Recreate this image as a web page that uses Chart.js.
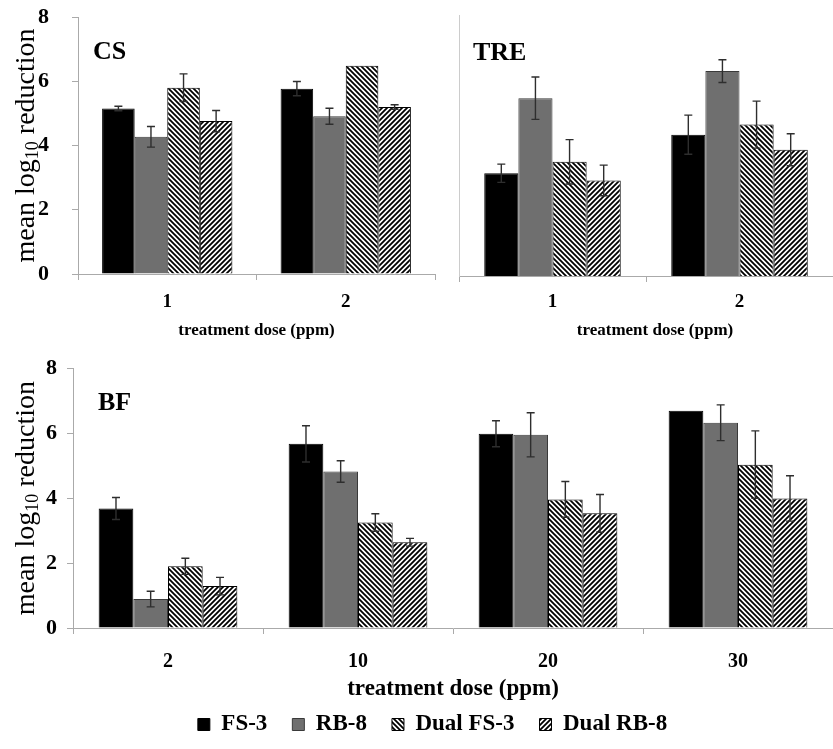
<!DOCTYPE html>
<html>
<head>
<meta charset="utf-8">
<script src="https://cdn.jsdelivr.net/npm/chart.js@4.4.1/dist/chart.umd.min.js"></script>
<style>
  html, body { margin: 0; padding: 0; background: #fff; overflow: hidden; }
  body { position: relative; width: 833px; height: 749px; }
  canvas { position: absolute; }
  #csChart { left: 0; top: 0; }
  #treChart { left: 445px; top: 0; }
  #bfChart { left: 0; top: 345px; }
</style>
</head>
<body>
<canvas id="csChart" width="445" height="345"></canvas>
<canvas id="treChart" width="388" height="345"></canvas>
<canvas id="bfChart" width="833" height="401"></canvas>
<script>
// categories
const csDoses = ["1", "2"];
const treDoses = ["1", "2"];
const bfDoses = ["2", "10", "20", "30"];
const seriesNames = ["FS-3", "RB-8", "Dual FS-3", "Dual RB-8"];
const yMin = 0;
const yMax = 8;
const yStep = 2;

// CS panel (mean log10 reduction, error)
const csFS3 = [5.15, 5.77];
const csFS3Err = [0.07, 0.22];
const csRB8 = [4.27, 4.91];
const csRB8Err = [0.32, 0.25];
const csDualFS3 = [5.80, 6.48];
const csDualFS3Err = [0.43, 0];
const csDualRB8 = [4.76, 5.20];
const csDualRB8Err = [0.33, 0.07];

// TRE panel
const treFS3 = [3.15, 4.33];
const treFS3Err = [0.28, 0.60];
const treRB8 = [5.45, 6.28];
const treRB8Err = [0.65, 0.35];
const treDualFS3 = [3.50, 4.64];
const treDualFS3Err = [0.68, 0.72];
const treDualRB8 = [2.93, 3.87];
const treDualRB8Err = [0.47, 0.49];

// BF panel
const bfFS3 = [3.68, 5.67, 5.98, 6.69];
const bfFS3Err = [0.34, 0.56, 0.40, 0];
const bfRB8 = [0.89, 4.82, 5.95, 6.32];
const bfRB8Err = [0.24, 0.33, 0.68, 0.55];
const bfDualFS3 = [1.90, 3.25, 3.96, 5.03];
const bfDualFS3Err = [0.25, 0.27, 0.55, 1.04];
const bfDualRB8 = [1.29, 2.64, 3.53, 3.99];
const bfDualRB8Err = [0.27, 0.12, 0.58, 0.70];

const serif = '"Liberation Serif", "Times New Roman", serif';
Chart.defaults.font.family = serif;
Chart.defaults.color = "#000";

// diagonal hatch fill, dir "back" = \\\ , "fwd" = ///
function makeHatch(dir) {
    const s = 5;
    const c = document.createElement("canvas");
    c.width = s;
    c.height = s;
    const g = c.getContext("2d");
    g.fillStyle = "#fff";
    g.fillRect(0, 0, s, s);
    g.strokeStyle = "#000";
    g.lineWidth = 1.8;
    g.beginPath();
    for (let k = -s; k <= 2 * s; k += s) {
        if (dir === "back") {
            g.moveTo(-1, k - 1);
            g.lineTo(s + 1, k + s + 1);
        } else {
            g.moveTo(-1, k + 1);
            g.lineTo(s + 1, k - s - 1);
        }
    }
    g.stroke();
    return g.createPattern(c, "repeat");
}

const fills = ["#000000", "#6f6f6f", makeHatch("back"), makeHatch("fwd")];
const borders = ["#000000", "#3a3a3a", "#000000", "#000000"];

function makeDatasets(means, errs) {
    return seriesNames.map((name, i) => ({
        label: name,
        data: means[i],
        errors: errs[i],
        backgroundColor: fills[i],
        borderColor: borders[i],
        borderWidth: 1,
        categoryPercentage: 0.73,
        barPercentage: 1.0
    }));
}

// error bars drawn from the y scale
const errorBarPlugin = {
    id: "errorBars",
    afterDatasetsDraw(chart) {
        const ctx = chart.ctx;
        const yScale = chart.scales.y;
        ctx.save();
        ctx.strokeStyle = "#2e2e2e";
        ctx.lineWidth = 1.4;
        chart.data.datasets.forEach((ds, i) => {
            const meta = chart.getDatasetMeta(i);
            meta.data.forEach((bar, j) => {
                const err = ds.errors ? ds.errors[j] : 0;
                if (!err) return;
                const v = ds.data[j];
                const yTop = yScale.getPixelForValue(v + err);
                const yBot = yScale.getPixelForValue(v - err);
                const cap = 4;
                ctx.beginPath();
                ctx.moveTo(bar.x, yTop);
                ctx.lineTo(bar.x, yBot);
                ctx.moveTo(bar.x - cap, yTop);
                ctx.lineTo(bar.x + cap, yTop);
                ctx.moveTo(bar.x - cap, yBot);
                ctx.lineTo(bar.x + cap, yBot);
                ctx.stroke();
            });
        });
        ctx.restore();
    }
};

// axis titles and panel letters
const panelTextPlugin = {
    id: "panelText",
    afterDraw(chart, args, opts) {
        const ctx = chart.ctx;
        const ca = chart.chartArea;
        ctx.save();
        ctx.fillStyle = "#000";
        ctx.textBaseline = "middle";

        // panel letter
        ctx.font = "bold 26px " + serif;
        ctx.textAlign = "left";
        ctx.fillText(opts.label, ca.left + opts.labelDx, ca.top + opts.labelDy);

        // x title
        ctx.font = "bold " + opts.xSize + "px " + serif;
        ctx.textAlign = "center";
        ctx.fillText("treatment dose (ppm)", (ca.left + ca.right) / 2 + opts.xDx, ca.bottom + opts.xOffset);

        // y title with subscript
        if (opts.yTitle) {
            const parts = [
                ["mean log", "28px " + serif, 0],
                ["10", "18px " + serif, 6],
                [" reduction", "28px " + serif, 0]
            ];
            let total = 0;
            parts.forEach(p => { ctx.font = p[1]; total += ctx.measureText(p[0]).width; });
            ctx.translate(27, (ca.top + ca.bottom) / 2);
            ctx.rotate(-Math.PI / 2);
            ctx.textAlign = "left";
            let x = -total / 2;
            parts.forEach(p => {
                ctx.font = p[1];
                ctx.fillText(p[0], x, p[2]);
                x += ctx.measureText(p[0]).width;
            });
        }
        ctx.restore();
    }
};

function makeOptions(cfg) {
    return {
        responsive: false,
        animation: false,
        layout: { padding: { top: cfg.padTop, right: cfg.padRight, left: cfg.padLeft, bottom: 0 } },
        plugins: {
            legend: cfg.legend ? {
                display: true,
                position: "bottom",
                labels: {
                    font: { size: 23, weight: "bold" },
                    color: "#000",
                    boxWidth: 12,
                    boxHeight: 12,
                    padding: 25
                }
            } : { display: false },
            tooltip: { enabled: false },
            panelText: cfg.text
        },
        scales: {
            x: {
                type: "category",
                offset: true,
                grid: { offset: true, drawOnChartArea: false, drawTicks: true, tickLength: 6, color: "#aaaaaa" },
                border: { color: "#aaaaaa" },
                ticks: { font: { size: cfg.xTickSize, weight: "bold" }, padding: cfg.xTickPad, maxRotation: 0 },
                afterFit: function (scale) { scale.height = cfg.xHeight; }
            },
            y: {
                min: yMin,
                max: yMax,
                grid: cfg.yLabels ? { drawOnChartArea: false, drawTicks: true, tickLength: 6, color: "#aaaaaa" } : { display: false },
                border: { color: cfg.yLabels ? "#aaaaaa" : "#cccccc" },
                ticks: {
                    display: cfg.yLabels,
                    stepSize: yStep,
                    font: { size: 22, weight: "bold" },
                    padding: cfg.yTickPad,
                    crossAlign: cfg.yAlign
                },
                afterFit: function (scale) { scale.width = cfg.yWidth; }
            }
        }
    };
}

new Chart(document.getElementById("csChart"), {
    type: "bar",
    data: {
        labels: csDoses,
        datasets: makeDatasets([csFS3, csRB8, csDualFS3, csDualRB8], [csFS3Err, csRB8Err, csDualFS3Err, csDualRB8Err])
    },
    options: makeOptions({
        padTop: 17, padRight: 10, padLeft: 38, xHeight: 71, yWidth: 40, yLabels: true, yTickPad: 3, yAlign: "far",
        xTickSize: 19, xTickPad: 11, legend: false,
        text: { label: "CS", labelDx: 15, labelDy: 35, xSize: 17, xOffset: 57, xDx: 0, yTitle: true }
    }),
    plugins: [errorBarPlugin, panelTextPlugin]
});

new Chart(document.getElementById("treChart"), {
    type: "bar",
    data: {
        labels: treDoses,
        datasets: makeDatasets([treFS3, treRB8, treDualFS3, treDualRB8], [treFS3Err, treRB8Err, treDualFS3Err, treDualRB8Err])
    },
    options: makeOptions({
        padTop: 15, padRight: 0, padLeft: 0, xHeight: 69, yWidth: 14, yLabels: false, yTickPad: 0, yAlign: "near",
        xTickSize: 19, xTickPad: 9, legend: false,
        text: { label: "TRE", labelDx: 14, labelDy: 38, xSize: 17, xOffset: 55, xDx: 9, yTitle: false }
    }),
    plugins: [errorBarPlugin, panelTextPlugin]
});

new Chart(document.getElementById("bfChart"), {
    type: "bar",
    data: {
        labels: bfDoses,
        datasets: makeDatasets([bfFS3, bfRB8, bfDualFS3, bfDualRB8], [bfFS3Err, bfRB8Err, bfDualFS3Err, bfDualRB8Err])
    },
    options: makeOptions({
        padTop: 23, padRight: 0, padLeft: 32, xHeight: 60, yWidth: 41, yLabels: true, yTickPad: 10, yAlign: "near",
        xTickSize: 20, xTickPad: 16, legend: true,
        text: { label: "BF", labelDx: 25, labelDy: 35, xSize: 23, xOffset: 61, xDx: 0, yTitle: true }
    }),
    plugins: [errorBarPlugin, panelTextPlugin]
});
</script>
</body>
</html>
